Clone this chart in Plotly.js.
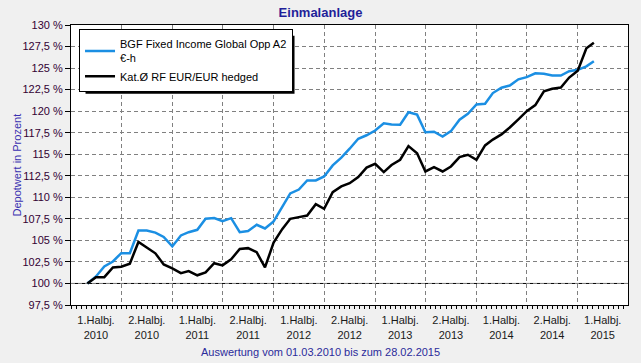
<!DOCTYPE html>
<html><head><meta charset="utf-8">
<script src="https://cdn.plot.ly/plotly-3.0.1.min.js"></script>
<style>html,body{margin:0;padding:0;background:#f0f0f0;} #chart{width:641px;height:363px;}</style>
</head><body><div id="chart"></div>
<script>
const dates = [
  '2010-03-01','2010-04-01','2010-05-01','2010-06-01','2010-07-01','2010-08-01','2010-09-01','2010-10-01','2010-11-01','2010-12-01',
  '2011-01-01','2011-02-01','2011-03-01','2011-04-01','2011-05-01','2011-06-01','2011-07-01','2011-08-01','2011-09-01','2011-10-01','2011-11-01','2011-12-01',
  '2012-01-01','2012-02-01','2012-03-01','2012-04-01','2012-05-01','2012-06-01','2012-07-01','2012-08-01','2012-09-01','2012-10-01','2012-11-01','2012-12-01',
  '2013-01-01','2013-02-01','2013-03-01','2013-04-01','2013-05-01','2013-06-01','2013-07-01','2013-08-01','2013-09-01','2013-10-01','2013-11-01','2013-12-01',
  '2014-01-01','2014-02-01','2014-03-01','2014-04-01','2014-05-01','2014-06-01','2014-07-01','2014-08-01','2014-09-01','2014-10-01','2014-11-01','2014-12-01',
  '2015-01-01','2015-02-01','2015-02-28'
];
const fundName = 'BGF Fixed Income Global Opp A2<br>€-h';
const categoryName = 'Kat.Ø RF EUR/EUR hedged';
const fundValues = [
  100.0,100.81,101.97,102.55,103.52,103.52,106.15,106.15,105.9,105.4,
  104.3,105.57,105.95,106.23,107.51,107.6,107.23,107.58,105.95,106.09,
  106.81,106.38,107.2,108.9,110.45,110.9,111.96,111.96,112.42,113.7,
  114.6,115.64,116.8,117.2,117.75,118.6,118.46,118.42,119.88,119.6,
  117.56,117.62,117.06,117.68,119.0,119.7,120.78,120.85,122.1,122.72,
  122.98,123.7,123.95,124.4,124.34,124.14,124.14,124.64,124.8,125.2,
  125.8
];
const categoryValues = [
  100.0,100.73,100.73,101.85,101.95,102.3,104.82,104.2,103.5,102.2,
  101.75,101.2,101.43,100.95,101.28,102.35,102.1,102.8,104.0,104.1,
  103.63,101.86,104.75,106.3,107.5,107.7,107.89,109.2,108.67,110.6,
  111.26,111.64,112.35,113.45,113.89,112.92,113.75,114.36,115.94,115.12,
  113.0,113.5,113.0,113.58,114.66,114.94,114.36,116.02,116.7,117.3,
  118.1,119.05,120.0,120.7,122.3,122.6,122.75,123.9,124.7,127.3,
  127.95
];
const halfYearBoundaries = ['2010-07-01','2011-01-01','2011-07-01','2012-01-01','2012-07-01','2013-01-01','2013-07-01','2014-01-01','2014-07-01','2015-01-01'];
const halfYearCenters = ['2010-04-01','2010-10-01','2011-04-01','2011-10-01','2012-04-01','2012-10-01','2013-04-01','2013-10-01','2014-04-01','2014-10-01','2015-04-01'];
const halfYearLabels = ['1.Halbj.<br>2010','2.Halbj.<br>2010','1.Halbj.<br>2011','2.Halbj.<br>2011','1.Halbj.<br>2012','2.Halbj.<br>2012','1.Halbj.<br>2013','2.Halbj.<br>2013','1.Halbj.<br>2014','2.Halbj.<br>2014','1.Halbj.<br>2015'];
const xRange = ['2010-01-01','2015-07-01'];
const yTickVals = [97.5,100,102.5,105,107.5,110,112.5,115,117.5,120,122.5,125,127.5,130];
const yTickText = ['97,5 %','100 %','102,5 %','105 %','107,5 %','110 %','112,5 %','115 %','117,5 %','120 %','122,5 %','125 %','127,5 %','130 %'];
const BASELINE = 100;

const FONT = 'Liberation Sans, Arial, sans-serif';
const DAY = 86400000;

const traces = [
  {x: dates, y: fundValues, name: fundName, type: 'scatter', mode: 'lines',
   line: {color: '#1b8fe3', width: 2.5}, xaxis: 'x', yaxis: 'y'},
  {x: dates, y: categoryValues, name: categoryName, type: 'scatter', mode: 'lines',
   line: {color: '#000000', width: 2.5}, xaxis: 'x2', yaxis: 'y'}
];

const baseShapes = [
  {type: 'line', xref: 'paper', x0: 0, x1: 1, yref: 'y', y0: BASELINE, y1: BASELINE, line: {color: '#000', width: 1}, layer: 'between'}
];

const layout = {
  width: 641, height: 363,
  paper_bgcolor: '#f0f0f0', plot_bgcolor: '#ffffff',
  margin: {l: 71, r: 13, t: 25, b: 58, pad: 0},
  font: {family: FONT, size: 11, color: '#000'},
  showlegend: true,
  title: {text: '<b>Einmalanlage</b>', font: {family: FONT, size: 13, color: '#1f1f99'},
          x: 0.5, xref: 'container', xanchor: 'center', y: 0.967, yref: 'container', yanchor: 'middle'},
  xaxis: {type: 'date', range: xRange, tickmode: 'array', tickvals: halfYearCenters, ticktext: halfYearLabels,
          showgrid: false, ticks: '', zeroline: false, showline: true, mirror: true, linecolor: '#000', linewidth: 1,
          tickfont: {size: 11, color: '#1a1a1a'}, ticklabelstandoff: 5,
          minor: {ticks: 'outside', ticklen: 3, tickcolor: '#000', tickwidth: 1, tick0: '2010-01-01', dtick: 18.26 * DAY, showgrid: false},
          fixedrange: true},
  xaxis2: {type: 'date', overlaying: 'x', matches: 'x', range: xRange, side: 'bottom', tickmode: 'array', tickvals: halfYearBoundaries,
           showticklabels: false, ticks: '', showgrid: true, gridcolor: '#808080', gridwidth: 1, griddash: '4px,3px',
           showline: false, zeroline: false, fixedrange: true},
  yaxis: {range: [97.5, 130], tickmode: 'array', tickvals: yTickVals, ticktext: yTickText,
          ticks: 'outside', ticklen: 5, tickcolor: '#000', tickwidth: 1,
          showgrid: true, gridcolor: '#808080', gridwidth: 1, griddash: '4px,3px',
          showline: true, mirror: true, linecolor: '#000', linewidth: 1, zeroline: false,
          tickfont: {size: 11, color: '#330033'}, fixedrange: true},
  legend: {x: 0.0144, y: 0.985, xanchor: 'left', yanchor: 'top', bgcolor: '#ffffff', bordercolor: '#000', borderwidth: 1,
           font: {size: 11, color: '#000'}, tracegroupgap: 0, itemwidth: 30},
  shapes: baseShapes,
  annotations: [
    {text: 'Auswertung vom 01.03.2010 bis zum 28.02.2015', xref: 'paper', yref: 'paper', x: 0.448, y: -0.168,
     xanchor: 'center', yanchor: 'middle', showarrow: false, font: {size: 11, color: '#2b2b9b'}},
    {text: 'Depotwert in Prozent', xref: 'paper', yref: 'paper', x: -0.0978, y: 0.5, textangle: -90,
     xanchor: 'center', yanchor: 'middle', showarrow: false, font: {size: 11, color: '#3a30b0'}}
  ]
};

Plotly.newPlot('chart', traces, layout, {displayModeBar: false, staticPlot: true}).then(function (gd) {
  // legend drop shadow, sized from the legend box Plotly actually drew
  const bg = gd.querySelector('.legend .bg');
  if (!bg) return;
  const r = bg.getBoundingClientRect();
  const g = gd.getBoundingClientRect();
  const fl = gd._fullLayout;
  const pl = fl._size;
  const off = 2;
  const toPX = function (px) { return (px - g.left - pl.l) / pl.w; };
  const toPY = function (py) { return 1 - (py - g.top - pl.t) / pl.h; };
  const shadow = {type: 'rect', xref: 'paper', yref: 'paper', layer: 'above',
    x0: toPX(r.left + off + 4), x1: toPX(r.right + off),
    y0: toPY(r.bottom + off), y1: toPY(r.top + off + 4),
    fillcolor: '#000', line: {width: 0}};
  Plotly.relayout(gd, {shapes: baseShapes.concat([shadow])});
});
</script>
</body></html>
